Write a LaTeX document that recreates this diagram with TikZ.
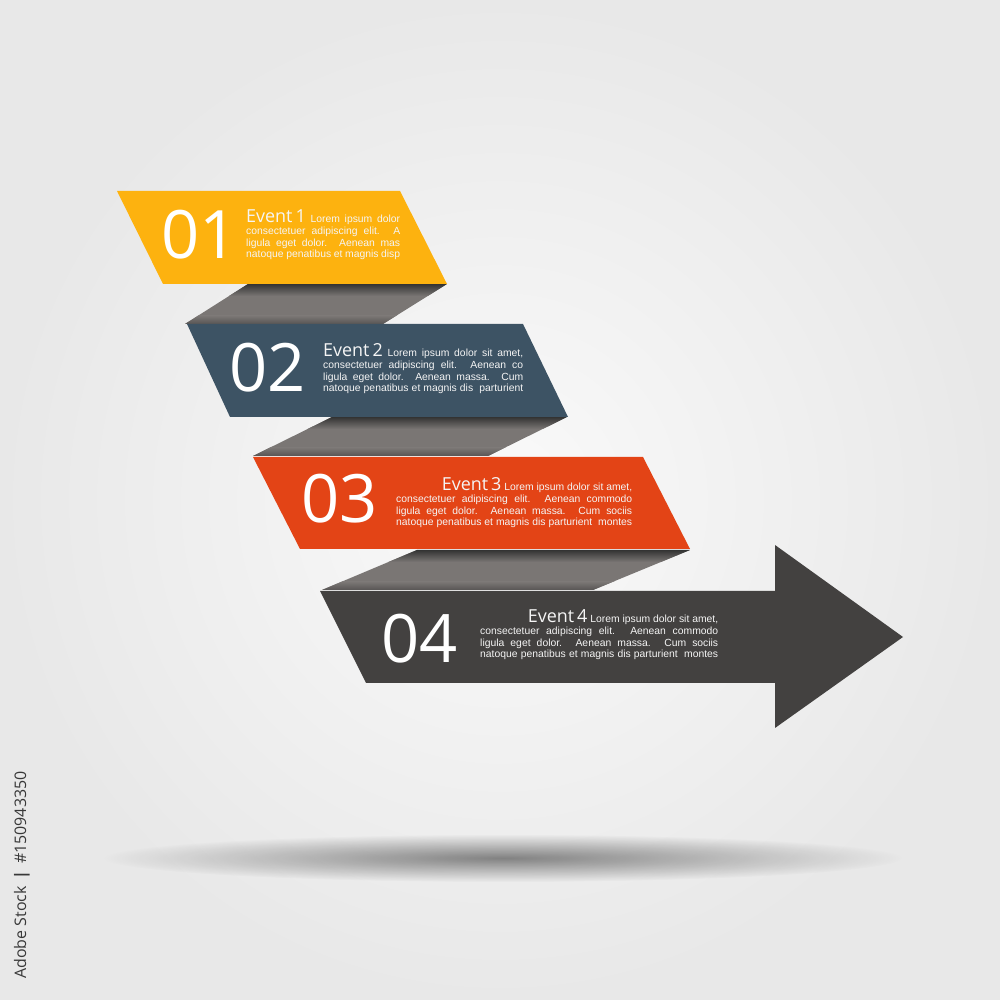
\documentclass[tikz,border=0pt]{standalone}
\usepackage{fontspec}
\setmainfont{Liberation Sans}
\newfontfamily\numfont{Open Sans}
\usetikzlibrary{fadings}
\definecolor{evyellow}{HTML}{FDB20F}
\definecolor{evblue}{HTML}{3D5364}
\definecolor{evorange}{HTML}{E34416}
\definecolor{evdark}{HTML}{434140}
\definecolor{foldgrey}{HTML}{7A7674}
\tikzfading[name=floorfade, inner color=transparent!0, outer color=transparent!100]
\newcommand\jline[2]{\hbox to #1{\spaceskip=.278em plus 1fil minus .12em\relax #2}}
\newcommand\rline[2]{\hbox to #1{\hfill #2}}
\newcommand\evhead[1]{{\numfont\fontsize{18}{18}\selectfont Event\,#1}}
\newcommand\evtext{\fontsize{10.4}{11.7}\selectfont\lineskiplimit=-100pt\relax}
\newcommand\drawfold[6]{%
  \begin{scope}
  \clip (#1bp,#5bp) -- (#2bp,#5bp) -- (#3bp,#6bp) -- (#4bp,#6bp) -- cycle;
  \fill[foldgrey] (#4bp,#6bp) rectangle (#2bp,#5bp);
  \shade[top color=black!80, bottom color=foldgrey] (#4bp,#5bp) rectangle (#2bp,#5bp-12bp);
  \shade[top color=foldgrey, bottom color=foldgrey!72!black] (#4bp,#6bp+8bp) rectangle (#2bp,#6bp);
  \end{scope}}
\tikzset{evnum/.style={anchor=base west,inner sep=0pt,text=white,font=\numfont\fontsize{67}{67}\selectfont},
  evbody/.style={anchor=base west,inner sep=0pt,text=white!96!black}}
\begin{document}
\begin{tikzpicture}[line join=miter]
%%
\useasboundingbox (0bp,0bp) rectangle (1000bp,1000bp);
\shade[inner color=black!2, outer color=black!9] (0bp,0bp) rectangle (1000bp,1000bp);
\fill[black,opacity=.45,path fading=floorfade] (503bp,142bp) ellipse (400bp and 24bp);
%
\drawfold{248}{447}{383}{185}{716}{676}
\drawfold{332}{567}{488}{253}{583}{544}
\drawfold{417}{690}{593}{322}{450}{410}
%
\fill[evyellow] (117bp,809bp) -- (400bp,809bp) -- (447bp,716bp) -- (163bp,716bp) -- cycle;
\fill[evblue] (187bp,676bp) -- (523bp,676bp) -- (568bp,583bp) -- (230bp,583bp) -- cycle;
\fill[evorange] (253bp,543bp) -- (643bp,543bp) -- (690bp,451bp) -- (300bp,451bp) -- cycle;
\fill[evdark] (320bp,409bp) -- (775bp,409bp) -- (775bp,455bp) -- (903bp,363bp) -- (775bp,272bp)
  -- (775bp,317bp) -- (366bp,317bp) -- cycle;
%
\node (num_1) at (161bp,741bp) [evnum] {01};
\node (num_2) at (229bp,608bp) [evnum] {02};
\node (num_3) at (301bp,477bp) [evnum] {03};
\node (num_4) at (381bp,337bp) [evnum] {04};
%
\node (txt_1) at (246bp,777bp) [evbody] {\vtop{\evtext
  \jline{154bp}{\evhead{1} Lorem ipsum dolor}
  \jline{154bp}{consectetuer adipiscing elit. A}
  \jline{154bp}{ligula eget dolor. Aenean mas}
  \jline{154bp}{natoque penatibus et magnis disp}}};
\node (txt_2) at (323bp,643bp) [evbody] {\vtop{\evtext
  \jline{200bp}{\evhead{2} Lorem ipsum dolor sit amet,}
  \jline{200bp}{consectetuer adipiscing elit. Aenean co}
  \jline{200bp}{ligula eget dolor. Aenean massa. Cum}
  \jline{200bp}{natoque penatibus et magnis dis\ \ parturient}}};
\node (txt_3) at (396bp,509bp) [evbody] {\vtop{\evtext
  \rline{236bp}{\evhead{3} Lorem ipsum dolor sit amet,}
  \jline{236bp}{consectetuer adipiscing elit. Aenean commodo}
  \jline{236bp}{ligula eget dolor. Aenean massa. Cum sociis}
  \jline{236bp}{natoque penatibus et magnis dis parturient\ \ montes}}};
\node (txt_4) at (480bp,377bp) [evbody] {\vtop{\evtext
  \rline{238bp}{\evhead{4} Lorem ipsum dolor sit amet,}
  \jline{238bp}{consectetuer adipiscing elit. Aenean commodo}
  \jline{238bp}{ligula eget dolor. Aenean massa. Cum sociis}
  \jline{238bp}{natoque penatibus et magnis dis parturient\ \ montes}}};
%
\node (stock_id) at (22bp,125bp) [rotate=90,inner sep=0pt,text=black!78,font=\numfont\fontsize{16}{16}\selectfont] {Adobe Stock \,{\bfseries|}\, \#150943350};
%
\end{tikzpicture}
\end{document}
